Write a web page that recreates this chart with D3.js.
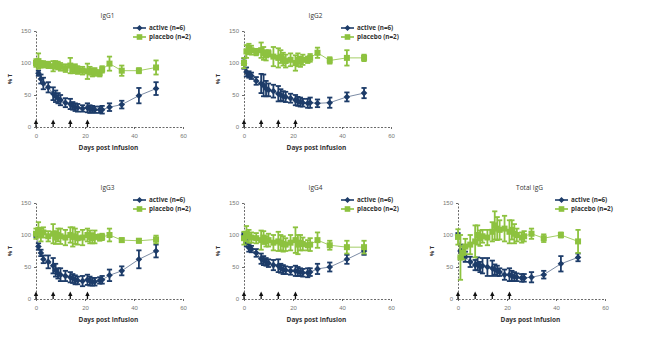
<!DOCTYPE html>
<html>
<head>
<meta charset="utf-8">
<script src="https://cdn.jsdelivr.net/npm/d3@7"></script>
<style>
  body { margin: 0; background: #fff; }
  svg { font-family: "Open Sans", "DejaVu Sans", sans-serif; }
  .tick text { fill: #777; font-size: 6px; }
  .axis path, .axis line { stroke: #444; stroke-width: 0.8; }
  .axis path { stroke-dasharray: 2,1.5; }
</style>
</head>
<body>
<svg id="chart" width="651" height="347"></svg>
<script>
// sampling days (days post infusion)
const days = [0, 1, 2, 3, 5, 7, 8, 9, 10, 12, 14, 15, 16, 17, 19, 21, 22, 23, 24, 26, 27, 30, 35, 42, 49];
const doseDays = [0, 7, 14, 21];
const xTicks = [0, 20, 40, 60];
const yTicks = [0, 50, 100, 150];

// % of baseline, mean and error per sampling day
const igg1Active     = [100, 84, 75, 68, 62, 52, 48, 45, 42, 38, 36, 33, 31, 30, 29, 30, 28, 28, 27, 27, 27, 31, 35, 49, 60];
const igg1ActiveErr  = [3, 4, 7, 9, 8, 10, 9, 8, 8, 7, 8, 6, 6, 6, 5, 7, 6, 5, 5, 5, 6, 6, 6, 12, 10];
const igg1Placebo    = [100, 103, 98, 98, 97, 95, 97, 96, 94, 92, 96, 90, 92, 89, 88, 87, 88, 85, 86, 84, 90, 99, 88, 88, 93];
const igg1PlaceboErr = [6, 12, 5, 5, 5, 8, 6, 6, 6, 6, 12, 6, 6, 6, 6, 12, 6, 6, 6, 5, 5, 11, 8, 4, 11];

const igg2Active     = [99, 86, 82, 80, 72, 68, 65, 60, 58, 56, 52, 50, 48, 47, 45, 42, 40, 39, 38, 37, 38, 37, 38, 47, 53];
const igg2ActiveErr  = [8, 7, 5, 5, 6, 15, 17, 12, 10, 10, 12, 9, 8, 8, 7, 8, 7, 7, 6, 7, 8, 6, 8, 7, 8];
const igg2Placebo    = [100, 118, 122, 120, 117, 120, 115, 112, 115, 110, 108, 110, 106, 103, 105, 100, 105, 102, 105, 105, 108, 116, 104, 108, 108];
const igg2PlaceboErr = [8, 10, 8, 7, 5, 12, 10, 8, 5, 15, 15, 10, 10, 10, 10, 12, 10, 8, 8, 5, 6, 8, 5, 12, 5];

const igg3Active     = [100, 82, 72, 62, 58, 52, 45, 40, 38, 36, 34, 32, 30, 29, 28, 30, 28, 27, 27, 29, 30, 37, 44, 62, 75];
const igg3ActiveErr  = [3, 5, 5, 6, 10, 12, 10, 8, 10, 8, 8, 7, 7, 6, 8, 8, 7, 6, 6, 5, 6, 9, 7, 14, 10];
const igg3Placebo    = [102, 108, 100, 104, 98, 102, 96, 100, 98, 96, 100, 97, 98, 95, 96, 100, 97, 95, 97, 96, 97, 100, 92, 91, 93];
const igg3PlaceboErr = [8, 12, 10, 8, 8, 15, 10, 10, 12, 12, 12, 15, 12, 10, 12, 10, 10, 8, 10, 5, 5, 10, 3, 3, 6];

const igg4Active     = [100, 88, 80, 78, 72, 63, 60, 58, 56, 53, 52, 48, 46, 45, 44, 44, 43, 42, 41, 41, 42, 47, 50, 62, 75];
const igg4ActiveErr  = [3, 6, 6, 5, 6, 8, 7, 6, 6, 8, 10, 7, 7, 6, 6, 8, 7, 6, 6, 7, 6, 8, 7, 7, 6];
const igg4Placebo    = [95, 102, 98, 96, 95, 92, 96, 90, 92, 88, 90, 88, 86, 85, 88, 92, 85, 88, 86, 84, 85, 92, 84, 81, 81];
const igg4PlaceboErr = [10, 12, 10, 8, 8, 15, 10, 8, 10, 12, 15, 12, 12, 10, 12, 20, 15, 12, 10, 8, 10, 12, 7, 10, 10];

const totalActive     = [100, 75, 70, 66, 58, 53, 55, 50, 52, 50, 48, 46, 44, 42, 38, 38, 36, 35, 34, 33, 33, 34, 38, 55, 65];
const totalActiveErr  = [3, 10, 8, 8, 8, 8, 10, 8, 12, 14, 12, 8, 8, 6, 8, 10, 8, 7, 6, 6, 6, 8, 6, 12, 6];
const totalPlacebo    = [97, 65, 72, 82, 85, 90, 100, 95, 98, 96, 105, 115, 110, 108, 110, 105, 108, 102, 100, 96, 98, 102, 95, 100, 90];
const totalPlaceboErr = [12, 35, 10, 12, 15, 25, 15, 12, 10, 12, 15, 22, 18, 15, 20, 18, 15, 15, 10, 8, 8, 8, 6, 4, 18];

const activeColor = "#1d3c69";
const placeboColor = "#8dc23f";
const pw = 147, ph = 96;

const panels = [
  {title: "IgG1", left: 36, top: 31, active: igg1Active, activeErr: igg1ActiveErr, placebo: igg1Placebo, placeboErr: igg1PlaceboErr},
  {title: "IgG2", left: 244, top: 31, active: igg2Active, activeErr: igg2ActiveErr, placebo: igg2Placebo, placeboErr: igg2PlaceboErr},
  {title: "IgG3", left: 36, top: 203, active: igg3Active, activeErr: igg3ActiveErr, placebo: igg3Placebo, placeboErr: igg3PlaceboErr},
  {title: "IgG4", left: 244, top: 203, active: igg4Active, activeErr: igg4ActiveErr, placebo: igg4Placebo, placeboErr: igg4PlaceboErr},
  {title: "Total IgG", left: 458, top: 203, active: totalActive, activeErr: totalActiveErr, placebo: totalPlacebo, placeboErr: totalPlaceboErr}
];

const svg = d3.select("#chart");

const x = d3.scaleLinear().domain([0, 60]).range([0, pw]);
const y = d3.scaleLinear().domain([0, 150]).range([ph, 0]);

function diamond(g, cx, cy, r, color) {
  g.append("path")
    .attr("d", `M${cx},${cy - r}L${cx + r},${cy}L${cx},${cy + r}L${cx - r},${cy}Z`)
    .attr("fill", color);
}

function square(g, cx, cy, r, color) {
  g.append("rect")
    .attr("x", cx - r).attr("y", cy - r)
    .attr("width", 2 * r).attr("height", 2 * r)
    .attr("fill", color);
}

function drawSeries(g, vals, errs, color, lineColor, marker, r) {
  const pts = days.map((d, i) => ({d, v: vals[i], e: errs[i]}));
  g.append("path")
    .datum(pts)
    .attr("fill", "none")
    .attr("stroke", lineColor)
    .attr("stroke-width", 0.8)
    .attr("d", d3.line().x(p => x(p.d)).y(p => y(p.v)));

  const eb = g.append("g").attr("stroke", color).attr("stroke-width", 1.8);
  pts.forEach(p => {
    const cx = x(p.d);
    eb.append("line").attr("x1", cx).attr("x2", cx).attr("y1", y(p.v - p.e)).attr("y2", y(p.v + p.e));
    eb.append("line").attr("x1", cx - 2.6).attr("x2", cx + 2.6).attr("y1", y(p.v - p.e)).attr("y2", y(p.v - p.e));
    eb.append("line").attr("x1", cx - 2.6).attr("x2", cx + 2.6).attr("y1", y(p.v + p.e)).attr("y2", y(p.v + p.e));
  });
  pts.forEach(p => marker(g, x(p.d), y(p.v), r, color));
}

panels.forEach(p => {
  const g = svg.append("g").attr("transform", `translate(${p.left},${p.top})`);

  // axes with dashed baselines
  g.append("g").attr("class", "axis")
    .call(d3.axisLeft(y).tickValues(yTicks).tickSize(2).tickSizeOuter(0).tickPadding(3));
  g.append("g").attr("class", "axis")
    .attr("transform", `translate(0,${ph})`)
    .call(d3.axisBottom(x).tickValues(xTicks).tickSize(2).tickSizeOuter(0).tickPadding(5));
  g.selectAll(".tick line").style("stroke-dasharray", null);

  g.append("text")
    .attr("x", pw / 2 - 2).attr("y", -13)
    .attr("text-anchor", "middle")
    .attr("font-size", 6.5).attr("fill", "#333")
    .text(p.title);

  g.append("text")
    .attr("transform", `translate(-24,${ph / 2}) rotate(-90)`)
    .attr("text-anchor", "middle")
    .attr("font-size", 6).attr("font-weight", "bold").attr("fill", "#333")
    .text("% T");

  g.append("text")
    .attr("x", pw / 2 - 1).attr("y", ph + 23)
    .attr("text-anchor", "middle")
    .attr("font-size", 6.5).attr("font-weight", "bold").attr("fill", "#333")
    .text("Days post infusion");

  drawSeries(g, p.active, p.activeErr, activeColor, "#5b6f8e", diamond, 3.3);
  drawSeries(g, p.placebo, p.placeboErr, placeboColor, placeboColor, square, 3);

  // dosing arrows
  doseDays.forEach(d => {
    const ax = x(d), ay = y(0);
    g.append("line").attr("x1", ax).attr("x2", ax).attr("y1", ay).attr("y2", ay - 5)
      .attr("stroke", "#111").attr("stroke-width", 1.3);
    g.append("path")
      .attr("d", `M${ax - 2.2},${ay - 3}L${ax},${ay - 7.5}L${ax + 2.2},${ay - 3}Z`)
      .attr("fill", "#111");
  });

  // legend
  const lg = g.append("g").attr("transform", `translate(97,-3)`);
  const items = [
    {label: "active (n=6)", color: activeColor, marker: diamond, r: 3},
    {label: "placebo (n=2)", color: placeboColor, marker: square, r: 2.8}
  ];
  items.forEach((it, i) => {
    const ly = i * 9;
    lg.append("line").attr("x1", 0).attr("x2", 13).attr("y1", ly).attr("y2", ly)
      .attr("stroke", it.color).attr("stroke-width", 1.6);
    it.marker(lg, 6.5, ly, it.r, it.color);
    lg.append("text").attr("x", 16).attr("y", ly + 2.2)
      .attr("font-size", 6.3).attr("font-weight", "bold").attr("fill", "#333")
      .text(it.label);
  });
});
</script>
</body>
</html>
